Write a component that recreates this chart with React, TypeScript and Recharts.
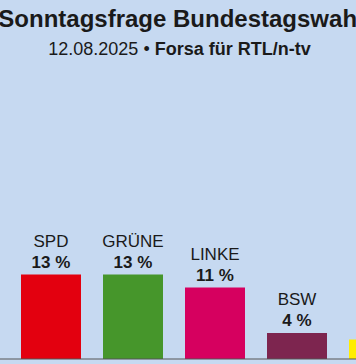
import React from 'react';
import { BarChart, Bar, XAxis, YAxis, Cell, LabelList } from 'recharts';

const parties = ['CDU/CSU', 'AfD', 'SPD', 'GRÜNE', 'LINKE', 'BSW', 'FDP', 'Sonstige'];
const values = [26, 26, 13, 13, 11, 4, 3, 4];
const colors = ['#000000', '#009ee0', '#e3000f', '#46962b', '#d6005f', '#7d254f', '#ffed00', '#9a9a9a'];

const title = 'Sonntagsfrage Bundestagswahl';
const subtitleDate = '12.08.2025 • ';
const subtitleSource = 'Forsa für RTL/n-tv';

const data = parties.map((name, i) => ({ name, value: values[i] }));

const FONT = '"Liberation Sans", Arial, Helvetica, sans-serif';
const BG = '#c6d9f1';
const TEXT = '#1a1a1a';
const SHIFT = 154;
const VIEW_W = 356;

const renderLabel = (props: any) => {
  const { x, y, width, index } = props;
  const cx = Number(x) + Number(width) / 2;
  const top = Number(y);
  return (
    <g>
      <text x={cx} y={top - 28} textAnchor="middle" fontFamily={FONT} fontSize={17} fill={TEXT}>
        {parties[index]}
      </text>
      <text x={cx} y={top - 7} textAnchor="middle" fontFamily={FONT} fontSize={17} fontWeight="bold" fill={TEXT}>
        {values[index]} %
      </text>
    </g>
  );
};

export default function App() {
  return (
    <div
      style={{
        position: 'fixed',
        left: 0,
        top: 0,
        width: VIEW_W,
        height: 364,
        overflow: 'hidden',
        background: BG,
      }}
    >
      <div style={{ position: 'absolute', left: -SHIFT, top: 0 }}>
        <BarChart width={656} height={364} data={data} margin={{ top: 99, right: 0, bottom: 0, left: 0 }}>
          <XAxis dataKey="name" tick={false} tickLine={false} axisLine={{ stroke: '#555', strokeWidth: 1 }} height={5} />
          <YAxis hide domain={[0, 40]} />
          <Bar dataKey="value" barSize={60} isAnimationActive={false}>
            {data.map((d, i) => (
              <Cell key={d.name} fill={colors[i]} />
            ))}
            <LabelList dataKey="value" content={renderLabel} />
          </Bar>
        </BarChart>
      </div>
      <svg width={VIEW_W} height={364} style={{ position: 'absolute', left: 0, top: 0, pointerEvents: 'none' }}>
        <text x={181} y={27} textAnchor="middle" fontFamily={FONT} fontSize={24} fontWeight="bold" fill={TEXT}>
          {title}
        </text>
        <text x={179.5} y={55} textAnchor="middle" fontFamily={FONT} fontSize={18} fill={TEXT}>
          <tspan>{subtitleDate}</tspan>
          <tspan fontWeight="bold">{subtitleSource}</tspan>
        </text>
      </svg>
    </div>
  );
}
